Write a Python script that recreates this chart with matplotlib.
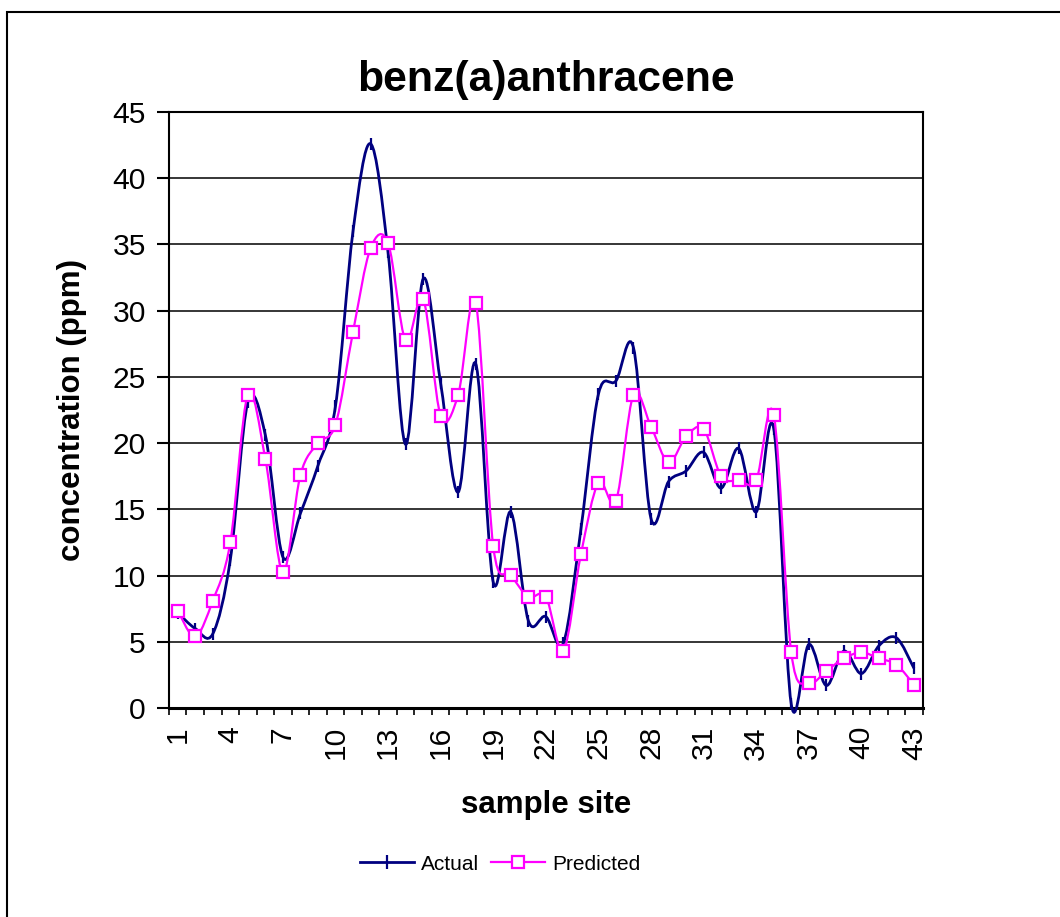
import numpy as np
import matplotlib
matplotlib.use('Agg')
import matplotlib.pyplot as plt
from matplotlib.path import Path
from matplotlib.patches import PathPatch, Rectangle
from matplotlib.lines import Line2D

plt.rcParams['font.family'] = ['Liberation Sans', 'DejaVu Sans']

# sample sites and measured / predicted concentrations (ppm)
sites = list(range(1, 44))
actual = [7.2, 6.0, 5.6, 11.2, 23.1, 20.6, 11.4, 14.7, 18.3, 22.8,
          36.0, 42.6, 34.4, 19.9, 32.4, 24.5, 16.3, 26.0, 9.5, 14.8,
          6.6, 6.9, 4.9, 13.5, 23.7, 24.7, 27.2, 14.3, 17.1, 17.9,
          19.3, 16.6, 19.6, 14.8, 21.1, 0.3, 4.8, 1.7, 4.3, 2.6,
          4.7, 5.3, 3.0]
predicted = [7.35, 5.4, 8.1, 12.5, 23.65, 18.8, 10.25, 17.6, 20.0, 21.4,
             28.4, 34.7, 35.1, 27.75, 30.9, 22.05, 23.65, 30.6, 12.2, 10.07,
             8.4, 8.4, 4.33, 11.6, 17.0, 15.65, 23.65, 21.25, 18.55, 20.5,
             21.07, 17.5, 17.2, 17.2, 22.15, 4.2, 1.9, 2.8, 3.75, 4.2,
             3.75, 3.27, 1.76]
x_labels = [str(s) for s in range(1, 44, 3)]

NAVY = '#000080'
MAGENTA = '#FF00FF'


# smoothed line like Excel's (cubic bezier through every point)
def smooth_path(x, y):
    n = len(x)
    verts = [(x[0], y[0])]
    codes = [Path.MOVETO]
    for i in range(n - 1):
        a = i - 1 if i > 0 else i
        d = i + 2 if i + 2 < n else i + 1
        c1 = (x[i] + (x[i + 1] - x[a]) / 6.0, y[i] + (y[i + 1] - y[a]) / 6.0)
        c2 = (x[i + 1] - (x[d] - x[i]) / 6.0, y[i + 1] - (y[d] - y[i]) / 6.0)
        verts += [c1, c2, (x[i + 1], y[i + 1])]
        codes += [Path.CURVE4] * 3
    return Path(verts, codes)


fig = plt.figure(figsize=(10.6, 9.17), dpi=100)
fig.patches.append(Rectangle((7 / 1060, -0.2), 1.2, 1.2 - 12 / 917,
                             transform=fig.transFigure, fill=False,
                             edgecolor='black', linewidth=1.5))
ax = fig.add_axes([0.1594, 0.2279, 0.8705 - 0.1594, 0.8779 - 0.2279])

ax.yaxis.grid(True, color='black', linewidth=1.1)
ax.set_axisbelow(True)

ax.add_patch(PathPatch(smooth_path(sites, actual), facecolor='none',
                       edgecolor=NAVY, linewidth=2.0, clip_on=False, zorder=3))
ax.plot(sites, actual, linestyle='none', marker='|', markersize=9,
        markeredgewidth=1.6, color=NAVY, zorder=3)

ax.add_patch(PathPatch(smooth_path(sites, predicted), facecolor='none',
                       edgecolor=MAGENTA, linewidth=1.6, zorder=4))
ax.plot(sites, predicted, linestyle='none', marker='s', markersize=9,
        markeredgewidth=1.6, markerfacecolor='white', markeredgecolor=MAGENTA,
        zorder=5)

ax.set_xlim(0.5, 43.5)
ax.set_ylim(0, 45)
ax.set_yticks(np.arange(0, 46, 5))
ax.set_xticks(range(1, 44, 3))
ax.set_xticklabels(x_labels, rotation=90)
ax.set_xticks(np.arange(0.5, 44, 1), minor=True)
ax.tick_params(axis='y', direction='out', length=8.6, width=1.5,
               labelsize=21.6, pad=8)
ax.tick_params(axis='x', which='major', length=0, labelsize=21.6, pad=13)
ax.tick_params(axis='x', which='minor', direction='out', length=5, width=1.2)

for side in ['left', 'right', 'top']:
    ax.spines[side].set_linewidth(1.5)
ax.spines['bottom'].set_linewidth(2.2)

ax.text(0.5, 1.054, 'benz(a)anthracene', transform=ax.transAxes,
        ha='center', va='center', fontsize=30.8, fontweight='bold')
ax.text(0.5, -0.163, 'sample site', transform=ax.transAxes,
        ha='center', va='center', fontsize=22.5, fontweight='bold')
ax.text(-0.129, 0.5, 'concentration (ppm)', transform=ax.transAxes,
        ha='center', va='center', rotation=90, fontsize=22.5,
        fontweight='bold')

handles = [
    Line2D([], [], color=NAVY, linewidth=2.0, marker='|', markersize=10,
           markeredgewidth=1.6),
    Line2D([], [], color=MAGENTA, linewidth=1.6, marker='s', markersize=9,
           markeredgewidth=1.6, markerfacecolor='white'),
]
fig.legend(handles, ['Actual', 'Predicted'], loc='center',
           bbox_to_anchor=(500 / 1060, 1 - 864 / 917), ncol=2,
           frameon=False, fontsize=15, handlelength=2.6,
           handletextpad=0.35, columnspacing=0.55)

fig.savefig('out.png', dpi=100)
